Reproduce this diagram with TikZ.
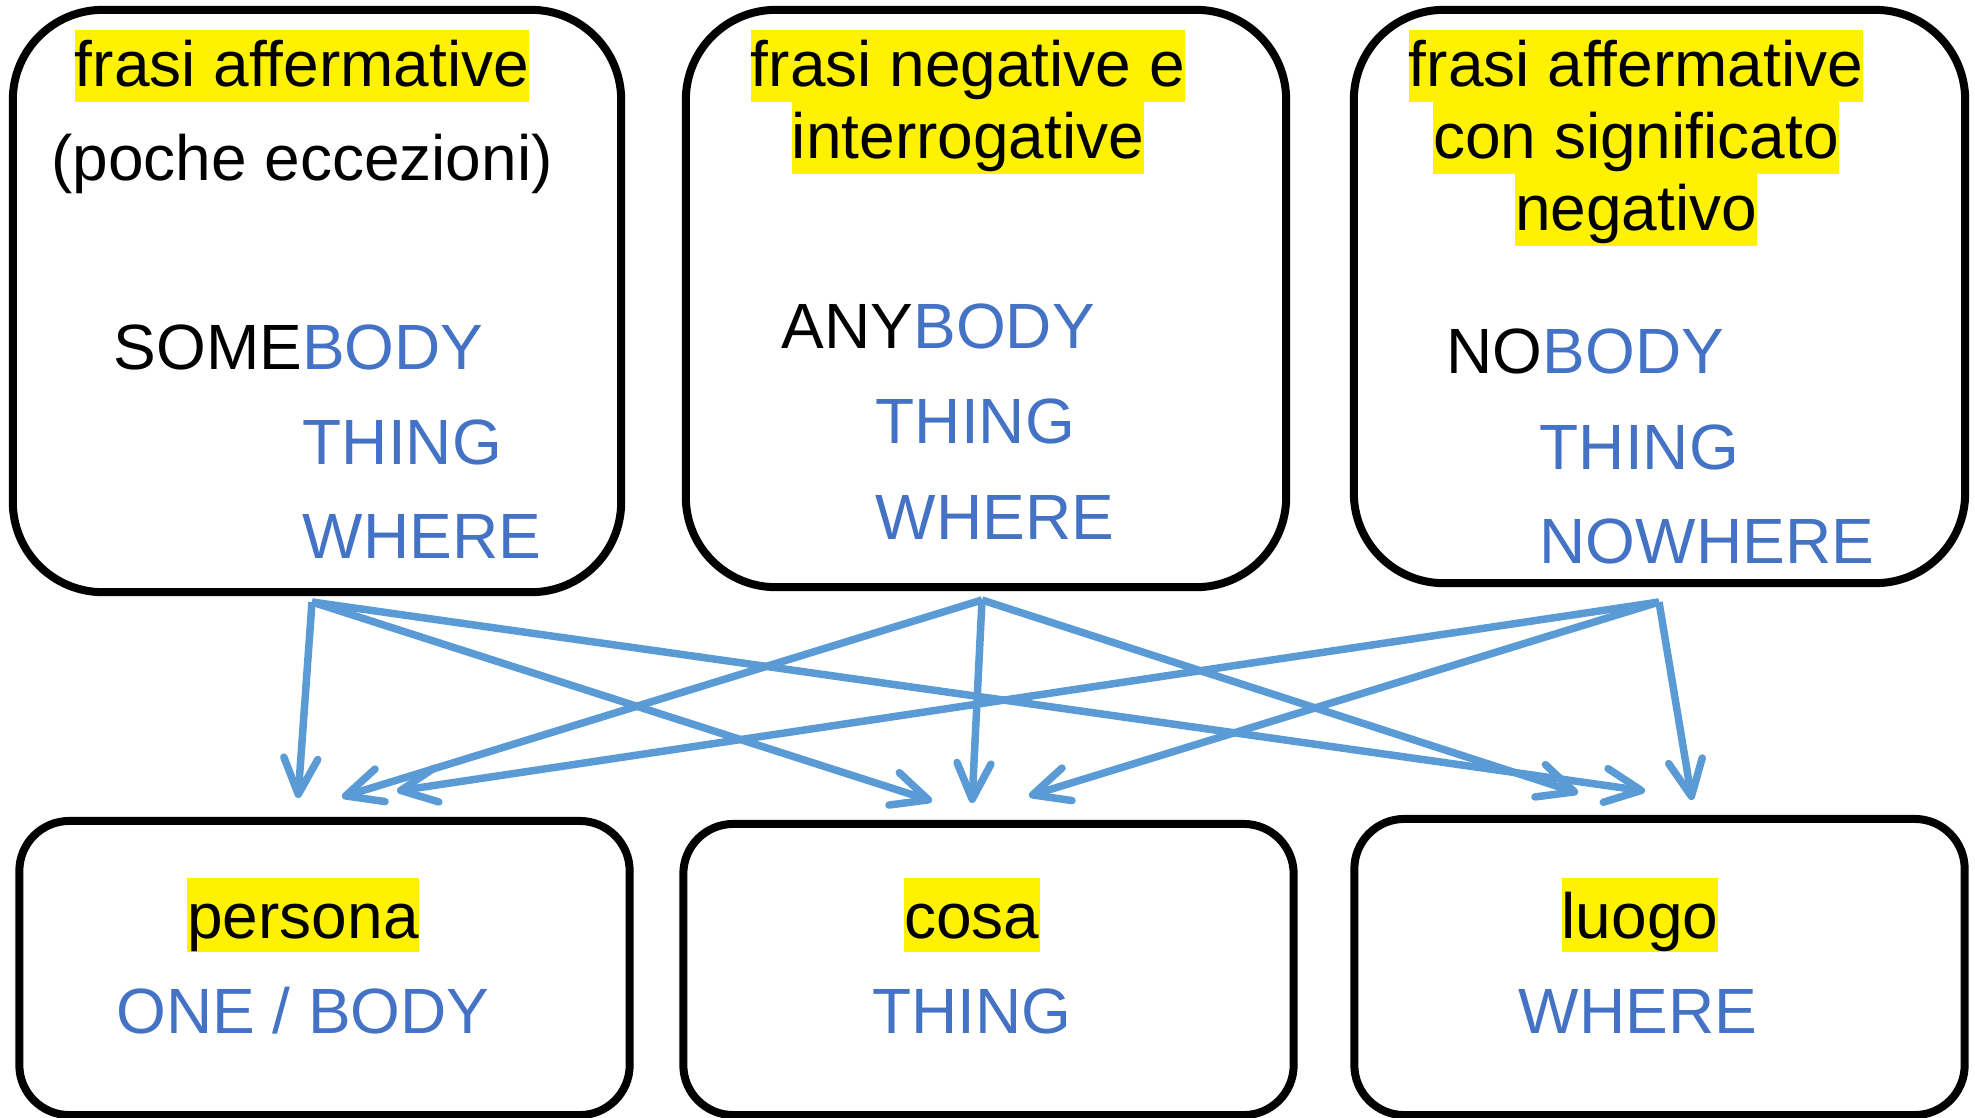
\documentclass[tikz,border=0pt]{standalone}
\usepackage{fontspec}
\setmainfont{Liberation Sans}
\usetikzlibrary{positioning,arrows.meta}
\definecolor{wordblue}{HTML}{4472C4}
\definecolor{arrowblue}{HTML}{5B9BD5}
\tikzset {
    top box/.style={
        draw=black,
        line width=0.08cm,
        rectangle, % Set the shape as a rectangle
        rounded corners=0.9cm,
        minimum width=6.08cm,
        minimum height=5.8cm,
    },
    bottom box/.style={
        draw=black,
        line width=0.08cm,
        rectangle, % Set the shape as a rectangle
        rounded corners=0.5cm,
        minimum width=6.1cm,
        minimum height=2.94cm,
    },
    hl/.style={
        fill=yellow,
        inner sep=0pt,
        text height=16pt,
        text depth=4.5pt,
        anchor=base,
    },
    word/.style={
        inner sep=0pt,
        anchor=base west,
    },
    link/.style={
        draw=arrowblue,
        line width=0.075cm,
        -{Straight Barb[length=0.36cm, width=0.34cm, round]},
    },
}

\begin{document}
\begin{tikzpicture}
        [x=0.01cm, y=-0.01cm, font=\fontsize{18.2}{21}\selectfont]

        \useasboundingbox (0,0) rectangle (1975,1117);

        \node[top box, minimum width=6.08cm, minimum height=5.82cm] at (317,301) (someBox) {};
        \node[top box, minimum width=6.0cm, minimum height=5.77cm] at (986,298.5) (anyBox) {};
        \node[top box, minimum width=6.11cm, minimum height=5.73cm] at (1659.5,296.5) (noBox) {};

        \node[bottom box, minimum height=2.94cm] at (324.5,968) (personaBox) {};
        \node[bottom box, minimum height=2.91cm] at (988.5,969.5) (cosaBox) {};
        \node[bottom box, minimum height=2.96cm] at (1659.5,967) (luogoBox) {};

        \node[hl] at (302,86) (someTitle) {frasi affermative};
        \node[anchor=base, inner sep=0pt] at (302,180) (someNote) {(poche eccezioni)};
        \node[word] at (113,369) (somebody) {SOME\textcolor{wordblue}{BODY}};
        \node[word, text=wordblue] at (302,464) (something) {THING};
        \node[word, text=wordblue] at (302,558) (somewhere) {WHERE};

        \node[hl] at (968,86) (anyTitleA) {frasi negative e};
        \node[hl] at (968,158) (anyTitleB) {interrogative};
        \node[word] at (781,348) (anybody) {ANY\textcolor{wordblue}{BODY}};
        \node[word, text=wordblue] at (875,443) (anything) {THING};
        \node[word, text=wordblue] at (875,539) (anywhere) {WHERE};

        \node[hl] at (1636,86) (noTitleA) {frasi affermative};
        \node[hl] at (1636,158) (noTitleB) {con significato};
        \node[hl] at (1636,230) (noTitleC) {negativo};
        \node[word] at (1446,373) (nobody) {NO\textcolor{wordblue}{BODY}};
        \node[word, text=wordblue] at (1539,469) (nothing) {THING};
        \node[word, text=wordblue] at (1539,563) (nowhere) {NOWHERE};

        \node[hl, text height=17pt, text depth=4pt] at (303,938) (persona) {persona};
        \node[anchor=base, inner sep=0pt, text=wordblue] at (303,1033) (onebody) {ONE / BODY};
        \node[hl, text height=17pt, text depth=4pt] at (972,938) (cosa) {cosa};
        \node[anchor=base, inner sep=0pt, text=wordblue] at (972,1033) (thing) {THING};
        \node[hl, text height=17pt, text depth=4pt] at (1640,938) (luogo) {luogo};
        \node[anchor=base, inner sep=0pt, text=wordblue] at (1638,1033) (where) {WHERE};

        \coordinate (fromSome) at (312,602);
        \coordinate (fromAny) at (982,600);
        \coordinate (fromNo) at (1659,602);

        \coordinate (toPersonaA) at (298,798);
        \coordinate (toPersonaB) at (342,797);
        \coordinate (toPersonaC) at (397,791);
        \coordinate (toCosaA) at (932,801);
        \coordinate (toCosaB) at (972,803);
        \coordinate (toCosaC) at (1029,796);
        \coordinate (toLuogoA) at (1645,791);
        \coordinate (toLuogoB) at (1578,793);
        \coordinate (toLuogoC) at (1692,800);

        \draw[link] (fromSome) -- (toPersonaA);
        \draw[link] (fromSome) -- (toCosaA);
        \draw[link] (fromSome) -- (toLuogoA);
        \draw[link] (fromAny) -- (toPersonaB);
        \draw[link] (fromAny) -- (toCosaB);
        \draw[link] (fromAny) -- (toLuogoB);
        \draw[link] (fromNo) -- (toPersonaC);
        \draw[link] (fromNo) -- (toCosaC);
        \draw[link] (fromNo) -- (toLuogoC);
    \end{tikzpicture}
\end{document}
